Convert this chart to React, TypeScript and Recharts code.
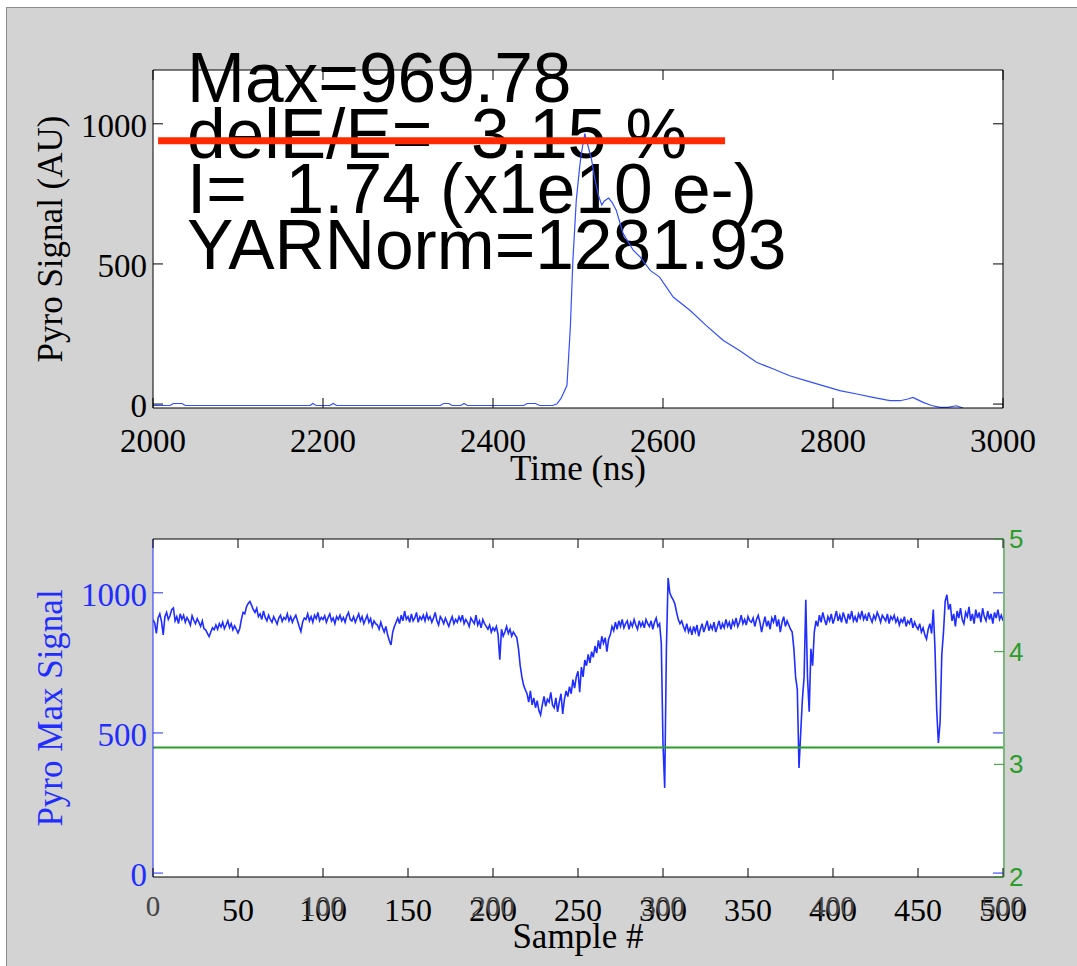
import React from 'react';
import { LineChart, Line, XAxis, YAxis, ReferenceLine } from 'recharts';

// pulse trace (top panel)
const timeNs = [
  2000, 2020, 2024, 2034, 2038, 2185, 2188, 2192, 2208, 2212, 2216, 2338, 2342, 2348, 2352, 2362, 2366,
  2370, 2436, 2440, 2450, 2455, 2470, 2475, 2480, 2487, 2491, 2494, 2498, 2502, 2504, 2508, 2510, 2512,
  2516, 2520, 2524, 2528, 2531, 2536, 2540, 2545, 2553, 2565, 2573, 2585, 2596, 2612, 2632, 2651, 2671,
  2690, 2710, 2730, 2749, 2769, 2788, 2808, 2828, 2847, 2867, 2879, 2888, 2894, 2900, 2906, 2916, 2926,
  2935, 2945, 2953,
];
const pyroSignal = [
  -5, -5, 2, 2, -5, -5, 2, -5, -5, 2, -5, -5, 2, 2, -5, -5, 2,
  -5, -5, 2, 2, -5, -5, 0, 20, 66, 274, 513, 728, 847, 895, 965, 940, 919,
  871, 800, 745, 710, 725, 735, 720, 692, 609, 549, 525, 477, 453, 382, 334, 280, 227,
  191, 149, 125, 101, 83, 66, 48, 36, 24, 12, 12, 18, 24, 15, 6, -5, -12,
  -12, -6, -14,
];

// max signal per sample (bottom panel), samples 0..500
const maxSignal = [
  904, 892, 855, 910, 925, 898, 850, 915, 930, 905, 918, 940, 946, 900, 915, 890, 925, 905, 920, 895,
  912, 900, 885, 918, 902, 890, 908, 895, 880, 900, 872, 868, 855, 844, 860, 875, 868, 885, 870, 890,
  878, 895, 872, 885, 900, 876, 890, 868, 882, 870, 857, 872, 905, 930, 925, 950, 962, 969, 955, 940,
  930, 945, 915, 925, 905, 935, 912, 900, 920, 905, 895, 915, 902, 888, 910, 920, 898, 912, 905, 925,
  900, 915, 895, 910, 920, 900, 880, 862, 895, 910, 905, 925, 900, 915, 895, 920, 908, 930, 900, 912,
  905, 918, 895, 912, 925, 900, 910, 890, 915, 905, 920, 900, 912, 895, 918, 930, 905, 900, 915, 895,
  910, 925, 900, 915, 890, 905, 920, 895, 908, 880, 900, 890, 885, 870, 895, 875, 860, 880, 850, 830,
  814, 860, 880, 895, 910, 890, 920, 900, 935, 905, 915, 895, 925, 900, 910, 930, 895, 915, 905, 920,
  900, 925, 905, 915, 895, 910, 930, 900, 885, 915, 905, 890, 910, 895, 880, 900, 915, 890, 905, 895,
  915, 900, 920, 890, 905, 895, 880, 910, 900, 890, 920, 885, 900, 875, 905, 890, 880, 870, 885, 860,
  875, 865, 880, 850, 761, 870, 845, 860, 880, 855, 870, 845, 860, 850, 840, 800, 740, 700, 670, 654,
  640, 610, 650, 600, 625, 590, 615, 580, 564, 600, 630, 595, 620, 610, 645, 600, 590, 625, 575, 610,
  640, 568, 620, 650, 630, 665, 640, 690, 660, 700, 720, 645, 735, 700, 760, 740, 780, 750, 790, 770,
  810, 785, 830, 800, 845, 820, 840, 790, 835, 850, 880, 865, 895, 870, 900, 880, 905, 875, 890, 900,
  870, 895, 880, 905, 885, 870, 900, 880, 895, 875, 905, 890, 880, 900, 870, 895, 910, 880, 890, 820,
  460, 304, 800, 1053, 1000, 985, 975, 960, 930, 905, 890, 900, 880, 865, 890, 860, 875, 850, 880, 860,
  885, 845, 870, 890, 860, 880, 900, 865, 885, 870, 895, 860, 880, 900, 870, 890, 875, 905, 880, 895,
  870, 900, 885, 910, 880, 895, 920, 890, 905, 885, 915, 900, 895, 910, 880, 905, 920, 895, 860, 890,
  915, 880, 900, 870, 910, 895, 920, 880, 905, 860, 895, 915, 880, 900, 885, 870, 860, 800, 700, 655,
  375, 500, 620, 700, 975, 700, 576, 800, 740, 860, 900, 880, 920, 895, 930, 905, 885, 915, 900, 925,
  890, 910, 935, 900, 920, 895, 930, 910, 890, 925, 905, 935, 900, 915, 895, 925, 910, 935, 905, 920,
  900, 930, 910, 895, 920, 905, 930, 915, 895, 920, 910, 900, 925, 890, 915, 905, 920, 895, 910, 885,
  905, 895, 915, 880, 900, 890, 910, 875, 895, 880, 870, 890, 860, 875, 850, 835, 870, 890, 855, 940,
  800, 582, 464, 540, 780, 860, 970, 993, 940, 960, 900, 925, 880, 935, 910, 945, 905, 890, 930, 915,
  950, 900, 925, 890, 940, 910, 930, 895, 945, 915, 900, 935, 905, 925, 890, 930, 910, 940, 905, 920, 900,
];

const timeTicks = [2000, 2200, 2400, 2600, 2800, 3000];
const signalTicks = [0, 500, 1000];
const sampleTicks = [0, 50, 100, 150, 200, 250, 300, 350, 400, 450, 500];
const sampleLabels = [50, 100, 150, 200, 250, 300, 350, 400, 450, 500];
const sampleLabelsAlt = [0, 100, 200, 300, 400, 500];
const spreadTicks = [2, 3, 4, 5];

const signalDomain = [-14, 1192];
const spreadDomain = [2, 5];
const spreadLevel = 3.15;
const markerLevel = 940;
const markerFrom = 2006;
const markerTo = 2673;

const annotation = ['Max=969.78', 'delE/E=  3.15 %', 'I=  1.74 (x1e10 e-)', 'YARNorm=1281.93'];

const pulseData = timeNs.map((t, i) => ({ t, v: pyroSignal[i] }));
const sampleData = maxSignal.map((v, i) => ({ s: i, v }));

const serif = '"Liberation Serif", "Times New Roman", serif';
const sans = '"Liberation Sans", Arial, sans-serif';
const BLUE = '#1f2dff';
const GREEN = '#2a9d2a';

type LabelStyle = { fill: string; size: number; dx?: number; dy: number; font?: string; anchor?: string };

// ticks pointing into the plot, matlab style
const hTick = (dir: number, len: number, stroke: string, labels: number[], st: LabelStyle) => (p: any) => (
  <g>
    {len > 0 && <line x1={p.x} y1={p.y} x2={p.x} y2={p.y + dir * len} stroke={stroke} />}
    {labels.includes(p.payload.value) && (
      <text x={p.x} y={p.y + st.dy} textAnchor="middle" fill={st.fill} fontSize={st.size} fontFamily={st.font || serif}>
        {p.payload.value}
      </text>
    )}
  </g>
);

const vTick = (dir: number, len: number, stroke: string, labels: number[], st: LabelStyle) => (p: any) => (
  <g>
    <line x1={p.x} y1={p.y} x2={p.x + dir * len} y2={p.y} stroke={stroke} />
    {labels.includes(p.payload.value) && (
      <text
        x={p.x + (st.dx || 0)}
        y={p.y + st.dy}
        textAnchor={st.anchor || 'end'}
        fill={st.fill}
        fontSize={st.size}
        fontFamily={st.font || serif}
      >
        {p.payload.value}
      </text>
    )}
  </g>
);

const yTitle = (text: string, color: string) => (props: any) => {
  const vb = props.viewBox || { x: 152, y: 70, height: 338 };
  const cx = vb.x - 102;
  const cy = vb.y + vb.height / 2;
  return (
    <text
      x={0}
      y={0}
      dy="0.33em"
      transform={`translate(${cx}, ${cy}) rotate(-90)`}
      textAnchor="middle"
      fill={color}
      fontSize={35}
      fontFamily={serif}
    >
      {text}
    </text>
  );
};

const noTick = { fill: '#000', size: 0, dy: 0 };

const App = () => (
  <div style={{ position: 'absolute', left: 0, top: 0, width: 1077, height: 966, background: '#fff' }}>
    <div
      style={{
        position: 'absolute', left: 6, top: 7, width: 1071, height: 959,
        background: '#d3d3d3', borderTop: '1px solid #8c8c8c', borderLeft: '1px solid #8c8c8c', boxSizing: 'border-box',
      }}
    />
    <div style={{ position: 'absolute', left: 153, top: 70, width: 850, height: 338, background: '#fff' }} />
    <div style={{ position: 'absolute', left: 153, top: 539, width: 850, height: 338, background: '#fff' }} />

    <svg width={1077} height={480} style={{ position: 'absolute', left: 0, top: 0 }}>
      {annotation.map((line, i) => (
        <text key={i} x={187} y={102 + i * 55.5} fontFamily={sans} fontSize={69.5} fill="#000" style={{ whiteSpace: 'pre' }}>
          {line}
        </text>
      ))}
    </svg>

    <div style={{ position: 'absolute', left: 0, top: 0 }}>
      <LineChart width={1077} height={500} data={pulseData} margin={{ top: 69, right: 73, bottom: 91, left: 152 }}>
        <XAxis
          dataKey="t" type="number" domain={[2000, 3000]} ticks={timeTicks} interval={0} allowDataOverflow
          height={1} tickSize={0} tickMargin={0} tickLine={false} axisLine={{ stroke: '#000' }}
          tick={hTick(-1, 10, '#000', timeTicks, { fill: '#000', size: 33, dy: 44 })}
          label={{ value: 'Time (ns)', position: 'bottom', offset: 46, fill: '#000', fontSize: 35, fontFamily: serif }}
        />
        <XAxis
          xAxisId="top" orientation="top" dataKey="t" type="number" domain={[2000, 3000]} ticks={timeTicks}
          interval={0} allowDataOverflow height={1} tickSize={0} tickMargin={0} tickLine={false}
          axisLine={{ stroke: '#000' }} tick={hTick(1, 10, '#000', [], noTick)}
        />
        <YAxis
          type="number" domain={signalDomain} ticks={signalTicks} interval={0} allowDataOverflow
          width={1} tickSize={0} tickMargin={0} tickLine={false} axisLine={{ stroke: '#000' }}
          tick={vTick(1, 10, '#000', signalTicks, { fill: '#000', size: 33, dx: -6, dy: 13 })}
          label={{ content: yTitle('Pyro Signal (AU)', '#000') }}
        />
        <YAxis
          yAxisId="right" orientation="right" type="number" domain={signalDomain} ticks={signalTicks}
          interval={0} allowDataOverflow width={1} tickSize={0} tickMargin={0} tickLine={false}
          axisLine={{ stroke: '#000' }} tick={vTick(-1, 10, '#000', [], noTick)}
        />
        <Line type="linear" dataKey="v" stroke="#3050ff" strokeWidth={1.2} dot={false} isAnimationActive={false} />
        <ReferenceLine
          segment={[{ x: markerFrom, y: markerLevel }, { x: markerTo, y: markerLevel }]}
          stroke="#ff2a00" strokeWidth={7}
        />
      </LineChart>
    </div>

    <div style={{ position: 'absolute', left: 0, top: 480 }}>
      <LineChart width={1077} height={486} data={sampleData} margin={{ top: 58, right: 72, bottom: 87, left: 152 }}>
        <XAxis
          dataKey="s" type="number" domain={[0, 500]} ticks={sampleTicks} interval={0} allowDataOverflow
          height={1} tickSize={0} tickMargin={0} tickLine={false} axisLine={{ stroke: '#000' }}
          tick={hTick(-1, 9, '#000', sampleLabels, { fill: '#000', size: 32, dy: 44 })}
          label={{ value: 'Sample #', position: 'bottom', offset: 45, fill: '#000', fontSize: 35, fontFamily: serif }}
        />
        <XAxis
          xAxisId="alt" dataKey="s" type="number" domain={[0, 500]} ticks={sampleLabelsAlt} interval={0}
          allowDataOverflow height={1} tickSize={0} tickMargin={0} tickLine={false} axisLine={false}
          tick={hTick(-1, 0, '#000', sampleLabelsAlt, { fill: '#444', size: 29, dy: 38 })}
        />
        <XAxis
          xAxisId="top" orientation="top" dataKey="s" type="number" domain={[0, 500]} ticks={sampleTicks}
          interval={0} allowDataOverflow height={1} tickSize={0} tickMargin={0} tickLine={false}
          axisLine={{ stroke: '#000' }} tick={hTick(1, 9, '#000', [], noTick)}
        />
        <YAxis
          type="number" domain={signalDomain} ticks={signalTicks} interval={0} allowDataOverflow
          width={1} tickSize={0} tickMargin={0} tickLine={false} axisLine={{ stroke: BLUE }}
          tick={vTick(1, 10, BLUE, signalTicks, { fill: BLUE, size: 33, dx: -6, dy: 13 })}
          label={{ content: yTitle('Pyro Max Signal', BLUE) }}
        />
        <YAxis
          yAxisId="spread" orientation="right" type="number" domain={spreadDomain} ticks={spreadTicks}
          interval={0} allowDataOverflow width={1} tickSize={0} tickMargin={0} tickLine={false}
          axisLine={{ stroke: GREEN }}
          tick={vTick(-1, 10, GREEN, spreadTicks, { fill: GREEN, size: 26, dx: 5, dy: 9, anchor: 'start', font: sans })}
        />
        <YAxis
          yAxisId="mirror" orientation="right" type="number" domain={signalDomain} ticks={signalTicks}
          interval={0} allowDataOverflow width={1} tickSize={0} tickMargin={0} tickLine={false} axisLine={false}
          tick={vTick(-1, 10, BLUE, [], noTick)}
        />
        <Line type="linear" dataKey="v" stroke={BLUE} strokeWidth={1.6} dot={false} isAnimationActive={false} />
        <ReferenceLine yAxisId="spread" y={spreadLevel} stroke={GREEN} strokeWidth={2} />
      </LineChart>
    </div>
  </div>
);

export default App;
